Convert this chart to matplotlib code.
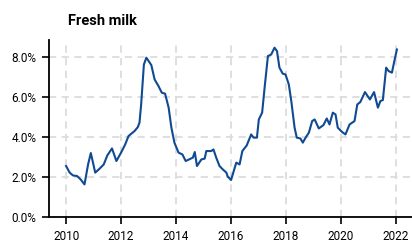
import matplotlib
matplotlib.use("Agg")
import matplotlib.pyplot as plt
from matplotlib.ticker import FuncFormatter

plt.rcParams['font.family'] = ['Roboto', 'DejaVu Sans']

# decimal year, year-on-year change (%)
years = [2010.00, 2010.13, 2010.25, 2010.40, 2010.53, 2010.67, 2010.80, 2010.90,
         2011.06, 2011.22, 2011.37, 2011.50, 2011.67, 2011.83, 2012.00, 2012.15,
         2012.27, 2012.49, 2012.61, 2012.67, 2012.73, 2012.83, 2012.92, 2013.10,
         2013.22, 2013.36, 2013.48, 2013.60, 2013.73, 2013.83, 2013.94, 2014.09,
         2014.23, 2014.35, 2014.61, 2014.68, 2014.76, 2014.92, 2015.04, 2015.10,
         2015.28, 2015.36, 2015.46, 2015.58, 2015.70, 2015.83, 2015.88, 2016.00,
         2016.19, 2016.31, 2016.41, 2016.57, 2016.73, 2016.82, 2016.94, 2017.01,
         2017.13, 2017.22, 2017.34, 2017.46, 2017.58, 2017.67, 2017.76, 2017.88,
         2017.98, 2018.10, 2018.19, 2018.31, 2018.39, 2018.52, 2018.61, 2018.71,
         2018.83, 2018.95, 2019.04, 2019.19, 2019.36, 2019.48, 2019.58, 2019.70,
         2019.80, 2019.88, 2020.04, 2020.16, 2020.31, 2020.49, 2020.59, 2020.70,
         2020.87, 2021.05, 2021.20, 2021.34, 2021.43, 2021.52, 2021.64, 2021.73,
         2021.85, 2021.93, 2022.03]
change = [2.55, 2.22, 2.08, 2.05, 1.88, 1.63, 2.63, 3.20,
          2.22, 2.42, 2.63, 3.08, 3.43, 2.80, 3.22, 3.63,
          4.05, 4.30, 4.50, 4.72, 5.63, 7.63, 7.97, 7.60,
          6.88, 6.55, 6.22, 6.17, 5.47, 4.47, 3.72, 3.22,
          3.13, 2.80, 2.97, 3.25, 2.55, 2.88, 2.92, 3.30,
          3.30, 3.38, 2.97, 2.55, 2.38, 2.22, 2.02, 1.85,
          2.72, 2.63, 3.30, 3.58, 4.13, 3.97, 3.97, 4.88,
          5.22, 6.47, 8.05, 8.13, 8.47, 8.30, 7.47, 7.17,
          7.13, 6.63, 5.80, 4.47, 3.97, 3.93, 3.72, 3.97,
          4.22, 4.80, 4.88, 4.43, 4.60, 4.93, 4.63, 5.22,
          5.13, 4.47, 4.25, 4.13, 4.63, 4.80, 5.63, 5.75,
          6.25, 5.88, 6.25, 5.47, 5.80, 5.85, 7.47, 7.30,
          7.22, 7.75, 8.38]

xticks = [2010, 2012, 2014, 2016, 2018, 2020, 2022]
yticks = [0, 2, 4, 6, 8]

fig = plt.figure(figsize=(4.12, 2.43), dpi=100)
ax = fig.add_axes([0.119, 0.107, 0.881, 0.728])

ax.plot(years, change, color='#0f4a92', lw=1.5, zorder=3)

ax.set_xlim(2009.38, 2022.58)
ax.set_ylim(0, 8.85)
ax.set_xticks(xticks)
ax.set_yticks(yticks)
ax.yaxis.set_major_formatter(FuncFormatter(lambda v, p: f"{v:.1f}%"))

ax.grid(True, color='#dcdcdc', ls=(0, (4, 3)), lw=1.3, zorder=0)
for s in ['top', 'right']:
    ax.spines[s].set_visible(False)
for s in ['left', 'bottom']:
    ax.spines[s].set_linewidth(1.3)
ax.tick_params(axis='both', labelsize=8.5, color='black', width=1.2, length=5)
ax.tick_params(axis='x', pad=4.5)
ax.tick_params(axis='y', pad=4)

fig.text(0.165, 0.912, "Fresh milk", fontsize=10.5, fontweight='bold',
         ha='left', va='center')

fig.savefig("out.png", dpi=100)
